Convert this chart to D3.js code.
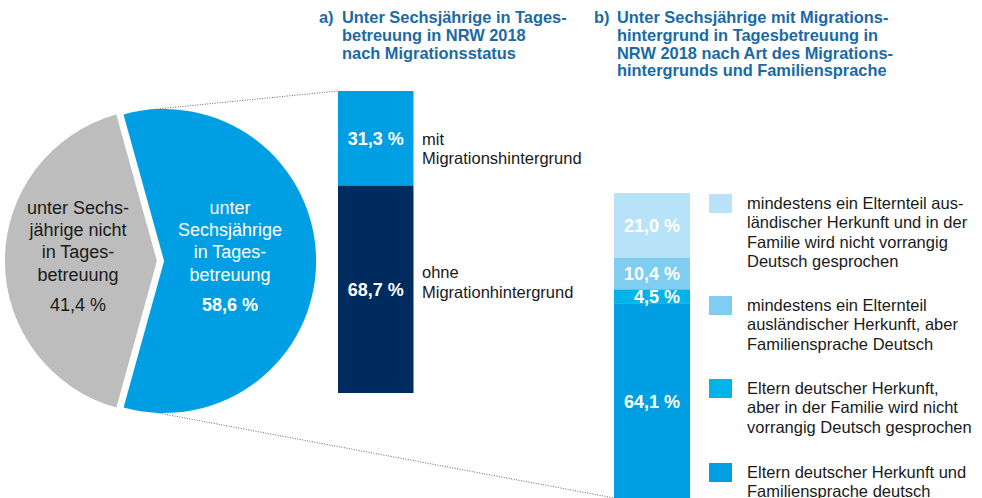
<!DOCTYPE html>
<html>
<head>
<meta charset="utf-8">
<script src="https://cdn.jsdelivr.net/npm/d3@7"></script>
<style>
  html, body { margin: 0; padding: 0; background: #fff; }
  svg { display: block; font-family: "Liberation Sans", Arial, sans-serif; }
</style>
</head>
<body>
<svg id="chart" width="982" height="498"></svg>
<script>
// ---- Data ----
const pieCategories = ["unter Sechsjährige in Tagesbetreuung", "unter Sechsjährige nicht in Tagesbetreuung"];
const pieValues = [58.6, 41.4];
const pieLabelLines = [["unter", "Sechsjährige", "in Tages-", "betreuung"], ["unter Sechs-", "jährige nicht", "in Tages-", "betreuung"]];
const pieColors = ["#009fe3", "#bdbdbd"];

const barACategories = ["mit Migrationshintergrund", "ohne Migrationhintergrund"];
const barAValues = [31.3, 68.7];
const barALabelLines = [["mit", "Migrationshintergrund"], ["ohne", "Migrationhintergrund"]];
const barAColors = ["#009fe3", "#002b5e"];

const barBCategories = [
  "mindestens ein Elternteil ausländischer Herkunft und in der Familie wird nicht vorrangig Deutsch gesprochen",
  "mindestens ein Elternteil ausländischer Herkunft, aber Familiensprache Deutsch",
  "Eltern deutscher Herkunft, aber in der Familie wird nicht vorrangig Deutsch gesprochen",
  "Eltern deutscher Herkunft und Familiensprache deutsch"
];
const barBValues = [21.0, 10.4, 4.5, 64.1];
const barBLegendLines = [
  ["mindestens ein Elternteil aus-", "ländischer Herkunft und in der", "Familie wird nicht vorrangig", "Deutsch gesprochen"],
  ["mindestens ein Elternteil", "ausländischer Herkunft, aber", "Familiensprache Deutsch"],
  ["Eltern deutscher Herkunft,", "aber in der Familie wird nicht", "vorrangig Deutsch gesprochen"],
  ["Eltern deutscher Herkunft und", "Familiensprache deutsch"]
];
const barBColors = ["#b8e2f7", "#7fcdf1", "#00b4ea", "#009fe3"];

const titleA = ["Unter Sechsjährige in Tages-", "betreuung in NRW 2018", "nach Migrationsstatus"];
const titleB = ["Unter Sechsjährige mit Migrations-", "hintergrund in Tagesbetreuung in", "NRW 2018 nach Art des Migrations-", "hintergrunds und Familiensprache"];

const fmt = v => d3.format(".1f")(v).replace(".", ",") + " %";

// ---- Drawing ----
const svg = d3.select("#chart");
const titleColor = "#1a6aa6";
const textColor = "#1a1a1a";

// Titles
function drawTitle(x, letter, lines) {
  const g = svg.append("g").attr("fill", titleColor).attr("font-weight", "bold").attr("font-size", "16.4px");
  g.append("text").attr("x", x).attr("y", 23).text(letter);
  g.selectAll("text.t").data(lines).join("text").attr("class", "t")
    .attr("x", x + 23).attr("y", (d, i) => 23 + i * 17.8).text(d => d);
}
drawTitle(319, "a)", titleA);
drawTitle(594, "b)", titleB);

// Pie
const pieCx = 160.5, pieCy = 261, pieR = 152, explode = 3.6;
const startA = -15.5 * Math.PI / 180;
const pie = d3.pie().sort(null).startAngle(startA).endAngle(startA + 2 * Math.PI);
const arcs = pie(pieValues);
const arc = d3.arc().innerRadius(0).outerRadius(pieR);
const pieG = svg.append("g").attr("transform", `translate(${pieCx},${pieCy})`);
arcs.forEach((a, i) => {
  const mid = (a.startAngle + a.endAngle) / 2;
  const dx = Math.sin(mid) * explode, dy = -Math.cos(mid) * explode;
  const g = pieG.append("g").attr("transform", `translate(${dx},${dy})`);
  g.append("path").attr("d", arc(a)).attr("fill", pieColors[i]);
});

// Pie labels
const pieLabelX = [230, 78];
const pieLabelFill = ["#ffffff", textColor];
arcs.forEach((a, i) => {
  const g = svg.append("g").attr("text-anchor", "middle").attr("font-size", "18px").attr("fill", pieLabelFill[i]);
  pieLabelLines[i].forEach((l, j) => {
    g.append("text").attr("x", pieLabelX[i]).attr("y", 214 + j * 22.2).text(l);
  });
  g.append("text").attr("x", pieLabelX[i]).attr("y", 311)
    .attr("font-weight", i === 0 ? "bold" : "normal").text(fmt(pieValues[i]));
});

// Bar A
const barAX = 338, barAW = 75.5;
const yA = d3.scaleLinear().domain([0, 100]).range([91, 393]);
const stackA = d3.cumsum(barAValues);
const barAG = svg.append("g");
barAValues.forEach((v, i) => {
  const y0 = yA(stackA[i] - v), y1 = yA(stackA[i]);
  barAG.append("rect").attr("x", barAX).attr("y", y0).attr("width", barAW).attr("height", y1 - y0).attr("fill", barAColors[i]);
  const cy = (y0 + y1) / 2;
  barAG.append("text").attr("x", barAX + barAW / 2).attr("y", cy + 6.5)
    .attr("text-anchor", "middle").attr("font-weight", "bold").attr("font-size", "18px").attr("fill", "#fff").text(fmt(v));
  const lines = barALabelLines[i];
  const base = i === 0 ? cy + 6.5 : cy + 8.5 - 19.5;
  lines.forEach((l, j) => {
    barAG.append("text").attr("x", 422).attr("y", base + j * 19.5).attr("font-size", "16.5px").attr("fill", textColor).text(l);
  });
});

// Bar B
const barBX = 614, barBW = 76;
const yB = d3.scaleLinear().domain([0, 100]).range([193, 500]);
const stackB = d3.cumsum(barBValues);
const barBG = svg.append("g");
barBValues.forEach((v, i) => {
  const y0 = yB(stackB[i] - v), y1 = yB(stackB[i]);
  barBG.append("rect").attr("x", barBX).attr("y", y0).attr("width", barBW).attr("height", y1 - y0).attr("fill", barBColors[i]);
});
barBValues.forEach((v, i) => {
  const y0 = yB(stackB[i] - v), y1 = yB(stackB[i]);
  barBG.append("text").attr("x", 680).attr("y", (y0 + y1) / 2 + 6.5)
    .attr("text-anchor", "end").attr("font-weight", "bold").attr("font-size", "18px").attr("fill", "#fff").text(fmt(v));
});

// Legend
const legendTop = [194, 296, 379, 463];
const legG = svg.append("g");
barBLegendLines.forEach((lines, i) => {
  legG.append("rect").attr("x", 709).attr("y", legendTop[i]).attr("width", 23).attr("height", 19).attr("fill", barBColors[i]);
  lines.forEach((l, j) => {
    legG.append("text").attr("x", 747).attr("y", legendTop[i] + 15 + j * 19.3)
      .attr("font-size", "16.5px").attr("fill", textColor).text(l);
  });
});

// Dotted connector lines from the exploded blue slice to the bars
const blueMidA = (arcs[0].startAngle + arcs[0].endAngle) / 2;
const bcx = pieCx + Math.sin(blueMidA) * explode, bcy = pieCy - Math.cos(blueMidA) * explode;
const pt = deg => [bcx + Math.sin(deg * Math.PI / 180) * pieR, bcy - Math.cos(deg * Math.PI / 180) * pieR];
const topP = pt(-5.3), botP = pt(182.6);
const conn = svg.append("g").attr("stroke", "#666").attr("stroke-width", 1).attr("stroke-dasharray", "1,1.5").attr("fill", "none");
conn.append("line").attr("x1", topP[0]).attr("y1", topP[1]).attr("x2", barAX).attr("y2", yA(0));
conn.append("line").attr("x1", botP[0]).attr("y1", botP[1]).attr("x2", barBX).attr("y2", 498);
</script>
</body>
</html>
